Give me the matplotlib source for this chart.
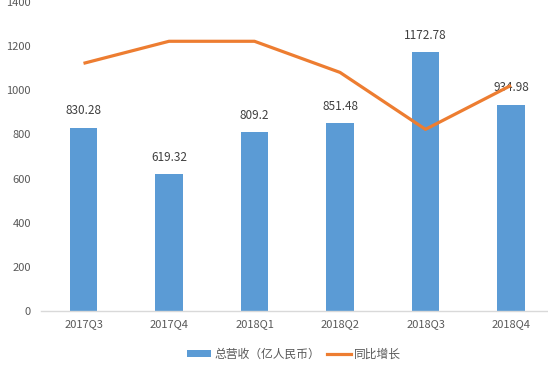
import matplotlib
matplotlib.use("Agg")
import matplotlib.pyplot as plt
from matplotlib.patches import Patch
from matplotlib.lines import Line2D

plt.rcParams['font.family'] = ['Noto Sans CJK SC', 'DejaVu Sans']

categories = ["2017Q3", "2017Q4", "2018Q1", "2018Q2", "2018Q3", "2018Q4"]
revenue = [830.28, 619.32, 809.2, 851.48, 1172.78, 934.98]
revenue_labels = ["830.28", "619.32", "809.2", "851.48", "1172.78", "934.98"]
# YoY growth line, plotted on a hidden secondary axis (values read in that axis' scale)
growth = [1122, 1222, 1222, 1081, 823, 1022]
y_ticks = [0, 200, 400, 600, 800, 1000, 1200, 1400]

bar_color = "#5B9BD5"
line_color = "#ED7D31"
text_color = "#595959"

fig = plt.figure(figsize=(5.48, 3.70), dpi=100)
ax = fig.add_axes([40.75 / 548, 59 / 370, 513 / 548, 309 / 370])
x = list(range(len(categories)))
ax.bar(x, revenue, width=0.316, color=bar_color, zorder=2)
ax.set_xlim(-0.5, len(categories) - 0.5)
ax.set_ylim(0, 1400)
ax.set_yticks(y_ticks)
ax.set_yticklabels([str(v) for v in y_ticks], fontsize=8, color=text_color)
ax.set_xticks(x)
ax.set_xticklabels(categories, fontsize=8, color=text_color)
ax.tick_params(axis='both', length=0)
ax.tick_params(axis='y', pad=7)
ax.tick_params(axis='x', pad=6)
for s in ['top', 'right', 'left']:
    ax.spines[s].set_visible(False)
ax.spines['bottom'].set_color('#d9d9d9')
ax.spines['bottom'].set_linewidth(1)

for xi, v, lab in zip(x, revenue, revenue_labels):
    ax.annotate(lab, (xi, v), xytext=(0, 7.5), textcoords='offset points',
                ha='center', va='bottom', fontsize=8.5, color='#404040')

ax2 = ax.twinx()
ax2.plot(x, growth, color=line_color, linewidth=2.3, solid_capstyle='butt', zorder=3)
ax2.set_ylim(0, 1400)
ax2.axis('off')

handles = [Patch(facecolor=bar_color, edgecolor='none'),
           Line2D([0], [0], color=line_color, linewidth=2.3)]
fig.legend(handles, ["总营收（亿人民币）", "同比增长"], loc='center',
           bbox_to_anchor=(294 / 548, 1 - 354 / 370), ncol=2, frameon=False,
           fontsize=8.5, labelcolor=text_color, handlelength=2.0, handleheight=0.6,
           columnspacing=0.6, handletextpad=0.3)

fig.savefig("out.png", dpi=100)
